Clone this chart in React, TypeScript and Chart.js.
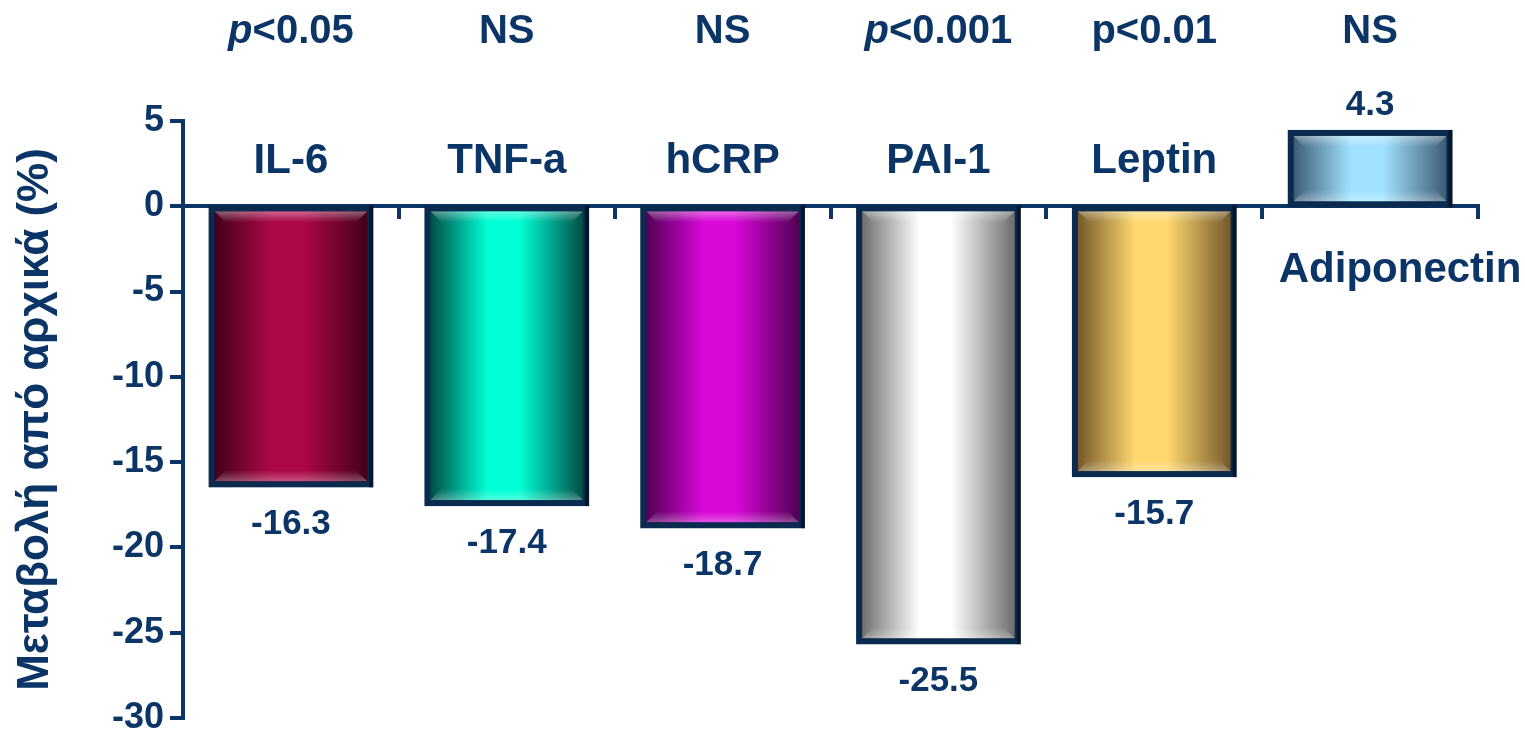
import React, { useEffect, useRef } from "react";
import { Chart, registerables } from "chart.js";

Chart.register(...registerables);

// Markers and their percent change from baseline
const markers = ["IL-6", "TNF-a", "hCRP", "PAI-1", "Leptin", "Adiponectin"];
const changePct = [-16.3, -17.4, -18.7, -25.5, -15.7, 4.3];
const valueLabels = ["-16.3", "-17.4", "-18.7", "-25.5", "-15.7", "4.3"];
// Significance text printed above each marker
const pTexts = ["p<0.05", "NS", "NS", "p<0.001", "p<0.01", "NS"];
const pItalic = [true, false, false, true, false, false];
const yTicks = [5, 0, -5, -10, -15, -20, -25, -30];

// [edge, centre] colours for the cylinder-like bar shading
const barShades: [string, string][] = [
  ["#3e0018", "#ac0848"],
  ["#00453f", "#00ffd6"],
  ["#4a004e", "#d808d8"],
  ["#666666", "#ffffff"],
  ["#6e5226", "#ffd870"],
  ["#385670", "#a2e2ff"],
];

const NAVY = "#0b3566";
const OUTLINE = "#0a2a50";
const FONT = "'Liberation Sans', Arial, sans-serif";
const BAR_PCT = 0.735;
const OUTLINE_W = 6;

function barGradient(c: CanvasRenderingContext2D, left: number, right: number, edge: string, mid: string) {
  const g = c.createLinearGradient(left, 0, right, 0);
  g.addColorStop(0, edge);
  g.addColorStop(0.38, mid);
  g.addColorStop(0.58, mid);
  g.addColorStop(1, edge);
  return g;
}

// Bevel highlights plus an outline centred on the bar edges
const bevelPlugin = {
  id: "bevel",
  afterDatasetsDraw(chart: any) {
    const c: CanvasRenderingContext2D = chart.ctx;
    const meta = chart.getDatasetMeta(0);
    meta.data.forEach((el: any) => {
      const half = el.width / 2;
      const x0 = el.x - half;
      const x1 = el.x + half;
      const y0 = Math.min(el.y, el.base);
      const y1 = Math.max(el.y, el.base);
      const hw = OUTLINE_W / 2;
      const l = x0 + hw;
      const r = x1 - hw;
      const top = y0 + hw;
      const bot = y1 - hw;
      const h = 11;
      c.save();
      // top highlight
      let g = c.createLinearGradient(0, top, 0, top + h);
      g.addColorStop(0, "rgba(255,255,255,0.38)");
      g.addColorStop(1, "rgba(255,255,255,0)");
      c.fillStyle = g;
      c.beginPath();
      c.moveTo(l, top);
      c.lineTo(r, top);
      c.lineTo(r - h, top + h);
      c.lineTo(l + h, top + h);
      c.closePath();
      c.fill();
      // bottom highlight
      g = c.createLinearGradient(0, bot - h, 0, bot);
      g.addColorStop(0, "rgba(255,255,255,0)");
      g.addColorStop(1, "rgba(255,255,255,0.3)");
      c.fillStyle = g;
      c.beginPath();
      c.moveTo(l + h, bot - h);
      c.lineTo(r - h, bot - h);
      c.lineTo(r, bot);
      c.lineTo(l, bot);
      c.closePath();
      c.fill();
      // outline
      c.strokeStyle = OUTLINE;
      c.lineWidth = OUTLINE_W;
      c.lineJoin = "miter";
      c.strokeRect(x0, y0, x1 - x0, y1 - y0);
      // darker right edge
      c.fillStyle = "rgba(0,8,20,0.6)";
      c.fillRect(x1 - 1, y0 - hw, hw + 1, y1 - y0 + OUTLINE_W);
      c.restore();
    });
  },
};

const labelPlugin = {
  id: "labels",
  afterDraw(chart: any) {
    const c: CanvasRenderingContext2D = chart.ctx;
    const xs = chart.scales.x;
    const ys = chart.scales.y;
    const zero = ys.getPixelForValue(0);
    c.save();
    c.fillStyle = NAVY;
    c.textBaseline = "middle";
    markers.forEach((name, i) => {
      const cx = xs.getPixelForValue(i);
      const v = changePct[i];
      const vy = ys.getPixelForValue(v);

      // significance text
      const t = pTexts[i];
      if (pItalic[i] && t.startsWith("p")) {
        c.font = `italic bold 40px ${FONT}`;
        const w1 = c.measureText("p").width;
        c.font = `bold 40px ${FONT}`;
        const rest = t.slice(1);
        const w2 = c.measureText(rest).width;
        const x0 = cx - (w1 + w2) / 2;
        c.textAlign = "left";
        c.font = `italic bold 40px ${FONT}`;
        c.fillText("p", x0, 32);
        c.font = `bold 40px ${FONT}`;
        c.fillText(rest, x0 + w1, 32);
      } else {
        c.font = `bold 40px ${FONT}`;
        c.textAlign = "center";
        c.fillText(t, cx, 32);
      }

      // marker name: above the axis for falling bars, below (nudged right) for rising ones
      c.font = `bold 42px ${FONT}`;
      c.textAlign = "center";
      if (v < 0) c.fillText(name, cx, zero - 45);
      else c.fillText(name, cx + 30, zero + 64);

      // value label at the bar end
      c.font = `bold 35px ${FONT}`;
      c.fillText(valueLabels[i], cx, v < 0 ? vy + 40 : vy - 28);
    });
    c.restore();
  },
};

export default function App() {
  const ref = useRef<HTMLCanvasElement>(null);

  useEffect(() => {
    document.body.style.margin = "0";
    const canvas = ref.current;
    if (!canvas) return;
    const chart = new Chart(canvas, {
      type: "bar",
      data: {
        labels: markers,
        datasets: [
          {
            data: changePct,
            barPercentage: BAR_PCT,
            categoryPercentage: 1,
            borderWidth: 0,
            backgroundColor: (ctx: any) => {
              const ch = ctx.chart;
              const xs = ch.scales && ch.scales.x;
              const i = ctx.dataIndex ?? 0;
              const [edge, mid] = barShades[i] || barShades[0];
              if (!xs || !(xs.width > 0)) return mid;
              const cx = xs.getPixelForValue(i);
              const half = (xs.width / markers.length) * BAR_PCT / 2;
              if (!Number.isFinite(cx) || !Number.isFinite(half)) return mid;
              return barGradient(ch.ctx, cx - half, cx + half, edge, mid);
            },
          },
        ],
      },
      options: {
        animation: false,
        responsive: true,
        maintainAspectRatio: false,
        layout: { padding: { left: 0, right: 47, top: 121, bottom: 14 } },
        plugins: {
          legend: { display: false },
          tooltip: { enabled: false },
        },
        scales: {
          x: {
            position: { y: 0 } as any,
            offset: true,
            border: { display: true, color: NAVY, width: 4 },
            grid: {
              display: true,
              offset: true,
              drawOnChartArea: false,
              drawTicks: true,
              tickLength: 11,
              color: NAVY,
              lineWidth: 4,
            },
            ticks: { display: false },
          },
          y: {
            min: -30,
            max: 5,
            afterFit: (s: any) => {
              s.width = 183;
              s.paddingTop = 0;
              s.paddingBottom = 0;
            },
            afterBuildTicks: (s: any) => {
              s.ticks = yTicks.map((v) => ({ value: v }));
            },
            border: { display: true, color: NAVY, width: 4 },
            grid: {
              drawOnChartArea: false,
              drawTicks: true,
              tickLength: 13,
              color: NAVY,
              lineWidth: 4,
            },
            ticks: {
              color: NAVY,
              padding: 6,
              font: { family: FONT, weight: "bold", size: 36 },
            },
            title: {
              display: true,
              text: "Μεταβολή από αρχικά (%)",
              color: NAVY,
              padding: { top: 9, bottom: 0 },
              font: { family: FONT, weight: "bold", size: 44 },
            },
          },
        },
      },
      plugins: [bevelPlugin, labelPlugin],
    });
    return () => chart.destroy();
  }, []);

  return (
    <div style={{ position: "fixed", left: 0, top: 0, width: 1525, height: 732, background: "#fff" }}>
      <canvas ref={ref} />
    </div>
  );
}
